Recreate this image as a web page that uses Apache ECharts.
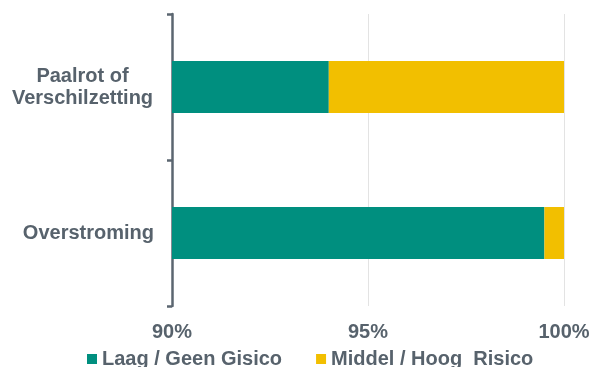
<!DOCTYPE html>
<html><head><meta charset="utf-8">
<script src="https://cdn.jsdelivr.net/npm/echarts@6/dist/echarts.min.js"></script>
<style>html,body{margin:0;padding:0;background:#fff}#c{width:590px;height:367px}</style>
</head><body><div id="c"></div>
<script>
const categories = ['Paalrot of\nVerschilzetting', 'Overstroming'];
const seriesNames = ['Laag / Geen Gisico', 'Middel / Hoog  Risico'];
const lowRisk = [94.0, 99.5];
const highRisk = [6.0, 0.5];
const xMin = 90, xMax = 100, xStep = 5;

const textColor = '#57626c';
const font = '"Liberation Sans", Arial, sans-serif';
const chart = echarts.init(document.getElementById('c'));
chart.setOption({
  animation: false,
  grid: { left: 172, right: 26, top: 14, bottom: 61, containLabel: false, outerBoundsMode: 'none' },
  legend: {
    data: seriesNames,
    left: 87, top: 349, padding: 0,
    itemWidth: 10, itemHeight: 10, itemGap: 34,
    icon: 'rect',
    textStyle: { fontFamily: font, fontSize: 20, fontWeight: 'bold', color: textColor }
  },
  xAxis: {
    type: 'value', min: xMin, max: xMax, interval: xStep,
    axisLine: { show: false }, axisTick: { show: false },
    splitLine: { show: true, lineStyle: { color: '#e3e3e3', width: 1 } },
    axisLabel: {
      formatter: '{value}%', margin: 16,
      fontFamily: font, fontSize: 20, fontWeight: 'bold', color: textColor
    }
  },
  yAxis: {
    type: 'category', data: categories, inverse: true,
    axisLine: { show: true, lineStyle: { color: '#5b6670', width: 2.5 } },
    axisTick: { show: true, length: 5, alignWithLabel: false, lineStyle: { color: '#5b6670', width: 2.5 } },
    axisLabel: {
      margin: 18, fontFamily: font, fontSize: 20, fontWeight: 'bold', color: textColor,
      lineHeight: 22,
      formatter: v => v.indexOf('\n') >= 0 ? v.split('\n').map(l => '{c|' + l + '}').join('\n') : v,
      rich: { c: { width: 143, align: 'center', fontFamily: font, fontSize: 20, fontWeight: 'bold', color: textColor, lineHeight: 22 } }
    }
  },
  series: [
    { name: seriesNames[0], type: 'bar', stack: 's', data: lowRisk, barWidth: 52,
      itemStyle: { color: '#008f7f' } },
    { name: seriesNames[1], type: 'bar', stack: 's', data: highRisk, barWidth: 52,
      itemStyle: { color: '#f2bf00' } }
  ]
});
</script></body></html>
